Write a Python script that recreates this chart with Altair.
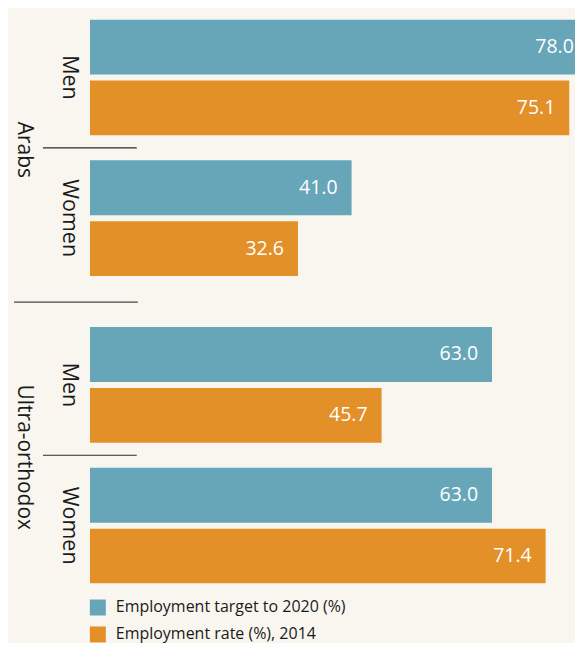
import altair as alt
import pandas as pd

# ---- data ----
groups = ["Arabs", "Arabs", "Ultra-orthodox", "Ultra-orthodox"]
subgroups = ["Men", "Women", "Men", "Women"]
target_2020 = [78.0, 41.0, 63.0, 63.0]
rate_2014 = [75.1, 32.6, 45.7, 71.4]
series_names = ["Employment target to 2020 (%)", "Employment rate (%), 2014"]
series_colors = ["#67A5B8", "#E29027"]
sub_order = ["Men", "Women"]

rows = []
for g, s, t, r in zip(groups, subgroups, target_2020, rate_2014):
    rows.append({"group": g, "sub": s, "series": series_names[0], "value": t})
    rows.append({"group": g, "sub": s, "series": series_names[1], "value": r})
df = pd.DataFrame(rows)

FONT = "Open Sans"
TXT = "#1a1a1a"
W = 486      # plot area runs to the right edge of the page
H = 257


def y_enc():
    return alt.Y("sub:N", sort=sub_order, axis=None,
                 scale=alt.Scale(domain=sub_order, paddingInner=25 / 141, paddingOuter=0))


def yo_enc():
    return alt.YOffset("series:N", sort=series_names,
                       scale=alt.Scale(domain=series_names, paddingInner=6 / 61, paddingOuter=0))


x_enc = alt.X("value:Q", axis=None,
              scale=alt.Scale(domain=[0, 76], nice=False, zero=True))

legend = alt.Legend(
    title=None, orient="none", legendX=0, legendY=581, direction="vertical",
    symbolType="square", symbolSize=256, symbolStrokeWidth=0,
    labelFont=FONT, labelFontSize=16, labelColor=TXT, labelOffset=10,
    rowPadding=11, labelLimit=400,
)


def group_chart(g, with_long_rule):
    d = df[df.group == g]
    base = alt.Chart(d)
    bars = base.mark_bar(clip=True).encode(
        x=x_enc, y=y_enc(), yOffset=yo_enc(),
        color=alt.Color("series:N", sort=series_names,
                        scale=alt.Scale(domain=series_names, range=series_colors),
                        legend=legend),
    )
    vals = base.mark_text(align="right", baseline="middle", dx=-14, color="white",
                          font=FONT, fontSize=19.5).encode(
        x=x_enc, y=y_enc(), yOffset=yo_enc(),
        text=alt.Text("value:Q", format=".1f"),
    )
    sub_lbl = alt.Chart(pd.DataFrame({"sub": sub_order})).mark_text(
        angle=90, align="center", baseline="middle", font=FONT, fontSize=21.5, color=TXT
    ).encode(x=alt.value(-21), y=y_enc(), text="sub:N")
    grp_lbl = alt.Chart(pd.DataFrame({"group": [g]})).mark_text(
        angle=90, align="center", baseline="middle", font=FONT, fontSize=21, color=TXT
    ).encode(x=alt.value(-66), y=alt.value(H / 2 + 2), text="group:N")
    dummy = pd.DataFrame({"k": [0]})
    short_rule = alt.Chart(dummy).mark_rule(color="#2a2a2a", strokeWidth=1.2).encode(
        x=alt.value(-47), x2=alt.value(47), y=alt.value(128.5))
    layers = [bars, vals, sub_lbl, grp_lbl, short_rule]
    if with_long_rule:
        long_rule = alt.Chart(dummy).mark_rule(color="#444444", strokeWidth=1.2).encode(
            x=alt.value(-76), x2=alt.value(48), y=alt.value(283))
        layers.append(long_rule)
    return alt.layer(*layers).properties(width=W, height=H)


chart = alt.VConcatChart(
    vconcat=[group_chart("Arabs", True), group_chart("Ultra-orthodox", False)],
    spacing=51, bounds="flush",
).properties(
    background="#F9F6EF",
    padding={"left": 5, "top": 11, "right": 0, "bottom": 0},
).configure(font=FONT).configure_view(stroke=None)

chart.save("out.html", embed_options={"renderer": "svg", "actions": False})
